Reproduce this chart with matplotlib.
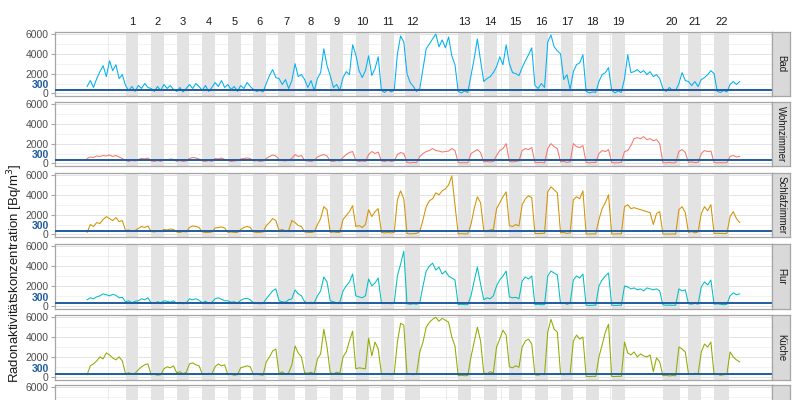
import matplotlib
matplotlib.use('Agg')
import matplotlib.pyplot as plt
import matplotlib.transforms as mtransforms
import numpy as np

plt.rcParams['font.family'] = ['Liberation Sans', 'DejaVu Sans']

# time axis: hours since start of measurement, one value every 3 h
hours = np.arange(205) * 3

# night bands (hours) and their numbers
band_labels = [str(i) for i in range(1, 23)]
band_start = [36, 60, 84, 108, 132, 156, 179, 204, 228, 252, 276, 298,
              348, 372, 396, 420, 444, 468, 492, 540, 564, 588]
band_end = [48, 72, 96, 120, 144, 168, 195, 216, 240, 264, 288, 312,
            360, 384, 408, 432, 456, 480, 504, 556, 576, 602]

rooms = ['Bad', 'Wohnzimmer', 'Schlafzimmer', 'Flur', 'Küche', '']
colors = ['#00B0F6', '#F8766D', '#D39200', '#00BFC4', '#93AA00', '#9590FF']

bad = [700, 1300, 600, 1500, 2200, 2800, 1700, 3300, 2300, 2900, 1500, 1900,
       800, 300, 700, 200, 800, 500, 1000, 600,
       500, 200, 700, 300, 900, 500, 800, 400,
       200, 600, 150, 500, 900, 500, 1000, 700,
       300, 800, 200, 600, 1100, 700, 1300, 600,
       900, 400, 700, 200, 800, 500, 1100, 700,
       400, 200, 300, 150, 1000, 1800, 2400, 1600,
       1500, 900, 1400, 500, 1300, 3000, 1700, 1900,
       1400, 600, 1300, 300, 1500, 2100, 4500, 2800,
       1800, 600, 900, 300, 1600, 2200, 1900, 4900,
       3900, 2300, 1600, 2300, 3800, 1800, 2500, 3700,
       300, 100, 400, 150, 300, 4000, 5800, 5200,
       2000, 1100, 700, 200, 500, 2500, 4500, 5000,
       5500, 6000, 4700, 5400, 4600, 5700, 3800, 2900,
       200, 50, 250, 100, 1800, 3500, 5500, 3300,
       1200, 1500, 1700, 2100, 2700, 3700, 2900, 4900,
       3000, 2100, 2000, 1800, 2600, 3300, 3900, 4600,
       800, 500, 1000, 600, 5200, 5900, 4700, 4300,
       4000, 1400, 1900, 400, 2200, 2900, 3100, 3900,
       200, 50, 150, 100, 1200, 1900, 2100, 2600,
       300, 50, 250, 100, 1500, 3900, 2100, 2200,
       2400, 2100, 2300, 1900, 2200, 1700, 1900, 1500,
       500, 200, 600, 300, 300, 1000, 2100, 1300,
       1200, 800, 1200, 700, 1400, 1600, 1900, 2300,
       2000, 200, 100, 300, 150, 900, 1200, 900, 1200]

wohnzimmer = [500, 650, 600, 750, 700, 800, 750, 850, 700, 800, 650, 500,
              300, 200, 350, 250, 400, 500, 450, 550,
              250, 200, 300, 200, 400, 350, 450, 400,
              200, 300, 200, 250, 500, 600, 550, 450,
              250, 200, 300, 200, 500, 450, 550, 400,
              300, 200, 250, 300, 450, 500, 550, 500,
              250, 300, 200, 250, 500, 700, 850, 750,
              400, 300, 250, 350, 500, 900, 700, 800,
              300, 250, 200, 300, 650, 800, 900, 750,
              250, 200, 300, 250, 600, 900, 1100, 1200,
              300, 200, 250, 200, 900, 1200, 1000, 1150,
              250, 200, 300, 200, 250, 900, 1100, 1000,
              100, 50, 100, 80, 700, 1000, 1200, 1300,
              1500, 1300, 1250, 1150, 1200, 1250, 1500, 1300,
              100, 50, 80, 50, 1000, 1200, 1400, 1100,
              150, 200, 150, 200, 800, 1300, 1500, 2000,
              200, 150, 200, 250, 1300, 1500, 1400, 1600,
              100, 80, 100, 50, 1500, 2000, 1700, 1500,
              150, 200, 100, 150, 2000, 1700, 1600, 1800,
              100, 50, 100, 80, 1000, 1300, 1200, 1400,
              100, 50, 80, 100, 1200, 1300, 1800, 2500,
              2600, 2500, 2700, 2400, 2500, 2300, 2400, 2000,
              80, 50, 100, 50, 80, 1200, 1400, 1100,
              100, 150, 80, 100, 1000, 1300, 1200, 1250,
              100, 50, 80, 60, 80, 700, 800, 650, 700]

schlafzimmer = [200, 1000, 800, 1200, 1100, 1500, 1800, 1600, 1400, 1700, 1300, 1400,
                400, 450, 350, 400, 600, 800, 700, 850,
                300, 250, 350, 300, 500, 450, 550, 500,
                250, 200, 300, 250, 700, 850, 800, 700,
                250, 200, 200, 250, 650, 700, 750, 650,
                200, 250, 200, 200, 500, 700, 800, 700,
                250, 200, 200, 250, 900, 1200, 1600, 1400,
                400, 500, 350, 400, 1400, 1200, 900, 800,
                250, 200, 200, 250, 1000, 1600, 2800, 2500,
                200, 250, 200, 200, 1500, 1900, 2300, 2900,
                800, 900, 700, 1000, 2500, 1800, 2300, 2600,
                200, 150, 200, 150, 200, 3500, 4400, 3600,
                100, 50, 80, 100, 300, 1500, 2800, 3400,
                3600, 4200, 4000, 4400, 4600, 5000, 5900, 3000,
                50, 80, 50, 60, 1000, 2600, 3800, 3200,
                400, 350, 450, 500, 2600, 3200, 3800, 4300,
                900, 800, 1000, 850, 3000, 3600, 3900, 3700,
                100, 80, 100, 120, 4300, 4800, 4500, 4200,
                150, 200, 100, 150, 3500, 3800, 3600, 4400,
                50, 40, 60, 50, 1500, 2600, 3200, 4000,
                50, 40, 60, 50, 2800, 3000, 2600, 2700,
                2600, 2500, 2400, 2300, 2200, 1000, 2100, 2300,
                50, 30, 40, 50, 40, 2500, 2800, 2200,
                200, 300, 150, 250, 2100, 2800, 2400, 3000,
                100, 120, 100, 80, 100, 1800, 2300, 1600, 1200]

flur = [600, 800, 700, 900, 1000, 1200, 1100, 1000, 1150, 1050, 800, 850,
        400, 500, 300, 450, 500, 700, 600, 800,
        300, 250, 400, 300, 500, 450, 350, 500,
        250, 350, 200, 300, 700, 600, 700, 550,
        300, 450, 250, 350, 700, 800, 650, 500,
        500, 350, 400, 250, 550, 700, 750, 600,
        300, 250, 200, 250, 700, 1100, 1500, 1700,
        500, 400, 350, 600, 700, 1600, 1200, 1000,
        400, 300, 350, 300, 1000, 1500, 2900, 2400,
        500, 400, 300, 350, 1500, 2000, 2400, 3200,
        1000, 900, 800, 1000, 2700, 2000, 2300, 2800,
        300, 250, 300, 200, 300, 3000, 4200, 5500,
        200, 150, 200, 150, 300, 2000, 3500, 4000,
        4300, 3600, 3900, 3200, 3500, 3000, 2800, 2600,
        100, 150, 100, 120, 1000, 2500, 3900, 2200,
        600, 800, 700, 1000, 2000, 2600, 3000, 3500,
        900, 800, 850, 700, 2500, 2900, 2700, 3000,
        100, 150, 100, 120, 3000, 3500, 3300, 3100,
        200, 300, 150, 250, 2600, 3000, 2800, 3200,
        50, 30, 40, 60, 2000, 2600, 3000, 3300,
        50, 30, 40, 50, 2000, 1900, 1700, 1800,
        1600, 1700, 1500, 1800, 1700, 1600, 1700, 1500,
        80, 50, 60, 40, 60, 1700, 1500, 1600,
        200, 150, 250, 150, 1900, 2400, 2100, 2600,
        150, 200, 150, 100, 150, 1000, 1300, 1100, 1200]

kueche = [200, 1100, 1300, 1600, 2000, 1800, 2400, 2200, 1900, 1700, 2000, 1600,
          300, 400, 300, 350, 700, 1000, 1200, 1300,
          200, 250, 150, 200, 800, 1000, 900, 1100,
          400, 500, 300, 450, 1300, 1400, 1200, 1100,
          300, 250, 350, 300, 1000, 1300, 1100, 1200,
          200, 250, 150, 200, 900, 1000, 1100, 1000,
          200, 250, 200, 150, 1500, 2000, 2600, 2800,
          300, 500, 250, 400, 1200, 3100, 2400, 2000,
          400, 350, 450, 300, 1800, 2300, 4800, 3000,
          400, 300, 450, 350, 2000, 2500, 3600, 4600,
          800, 900, 850, 800, 3900, 2100, 3500, 2800,
          300, 250, 350, 200, 300, 3500, 5400, 5200,
          300, 250, 200, 300, 2500, 3500, 5000, 5500,
          5800, 6000, 5600, 5900, 5700, 5500, 4000, 3100,
          100, 150, 100, 120, 2000, 3500, 5000, 3600,
          400, 300, 500, 400, 3000, 3800, 4700, 4200,
          1000, 900, 1100, 950, 3000, 3600, 3800, 3300,
          200, 150, 250, 200, 4500, 5800, 4800, 4500,
          300, 200, 250, 300, 3600, 4200, 3800, 4000,
          30, 20, 40, 30, 2000, 3200, 4500, 5300,
          30, 20, 40, 30, 3500, 2400, 2200, 2500,
          2000, 2300, 2100, 2000, 2200, 500, 1900, 1500,
          100, 150, 80, 120, 100, 3000, 2800, 2500,
          300, 250, 350, 300, 2500, 3300, 3000, 3500,
          200, 250, 150, 200, 250, 2500, 2000, 1700, 1500]

series = [bad, wohnzimmer, schlafzimmer, flur, kueche, None]

limit = 300
yticks = [0, 2000, 4000, 6000]

W, H = 800, 400
fig = plt.figure(figsize=(8, 4), dpi=100)

left_px, right_px, strip_px = 54.5, 772.3, 790.0
panel_tops = [31.7, 101.7, 172.7, 244.0, 315.0, 385.0]
panel_h = 64.5
line_blue = '#1F5C9E'

axes = []
for i, room in enumerate(rooms):
    top = panel_tops[i]
    bottom = 1 - (top + panel_h) / H
    last = i == len(rooms) - 1
    ax = fig.add_axes([left_px / W, bottom, (right_px - left_px) / W, panel_h / H])
    axes.append(ax)
    ax.set_xlim(-30.6, 642.6)
    ax.set_ylim(-280, 6230)

    # grid
    for y in [1000, 3000, 5000]:
        ax.axhline(y, color='#EEEEEE', lw=0.5, zorder=0)
    for y in yticks:
        ax.axhline(y, color='#E3E3E3', lw=0.7, zorder=0)
    for x in [19.5, 336.7, 388.4, 490.0]:
        ax.axvline(x, color='#E8E8E8', lw=0.6, zorder=0)

    # night bands
    for s, e in zip(band_start, band_end):
        ax.axvspan(s, e, color='#E3E3E3', lw=0, zorder=1)

    if series[i] is not None:
        ax.plot(hours, series[i], color=colors[i], lw=0.75, zorder=2)

    ax.axhline(limit, color=line_blue, lw=1.4, zorder=3)

    # the bottom panel is cut by the figure edge: only its top tick is visible
    shown = [6000] if last else yticks
    ax.set_yticks(shown)
    ax.set_yticklabels([str(t) for t in shown], fontsize=7.5, color='#4D4D4D')
    ax.tick_params(axis='y', length=3, width=0.8, color='#A6A6A6', pad=1.5)
    ax.set_xticks([])
    for sp in ax.spines.values():
        sp.set_color('#A6A6A6')
        sp.set_linewidth(0.9)

    if not last:
        trans = mtransforms.blended_transform_factory(fig.transFigure, ax.transData)
        ax.text((left_px - 5) / W, 830, '300', transform=trans, ha='right', va='center',
                fontsize=7.5, fontweight='bold', color=line_blue)

    # facet strip
    sax = fig.add_axes([right_px / W, bottom, (strip_px - right_px) / W, panel_h / H])
    sax.set_facecolor('#D9D9D9')
    sax.set_xticks([])
    sax.set_yticks([])
    for sp in sax.spines.values():
        sp.set_color('#A6A6A6')
        sp.set_linewidth(0.9)
    sax.text(0.5, 0.5, room, rotation=270, ha='center', va='center',
             fontsize=6.9, color='#1A1A1A', transform=sax.transAxes)

# band numbers on top
trans_top = mtransforms.blended_transform_factory(axes[0].transData, fig.transFigure)
for lab, s, e in zip(band_labels, band_start, band_end):
    axes[0].text((s + e) / 2, 1 - 22 / H, lab, transform=trans_top, ha='center', va='center',
                 fontsize=8, color='#1A1A1A')

fig.text(15 / W, 1 - 273 / H, 'Radonaktivitätskonzentration [Bq/m$^3$]', rotation=90,
         ha='center', va='center', fontsize=9.5, color='#1A1A1A')

fig.savefig('out.png', dpi=100)
